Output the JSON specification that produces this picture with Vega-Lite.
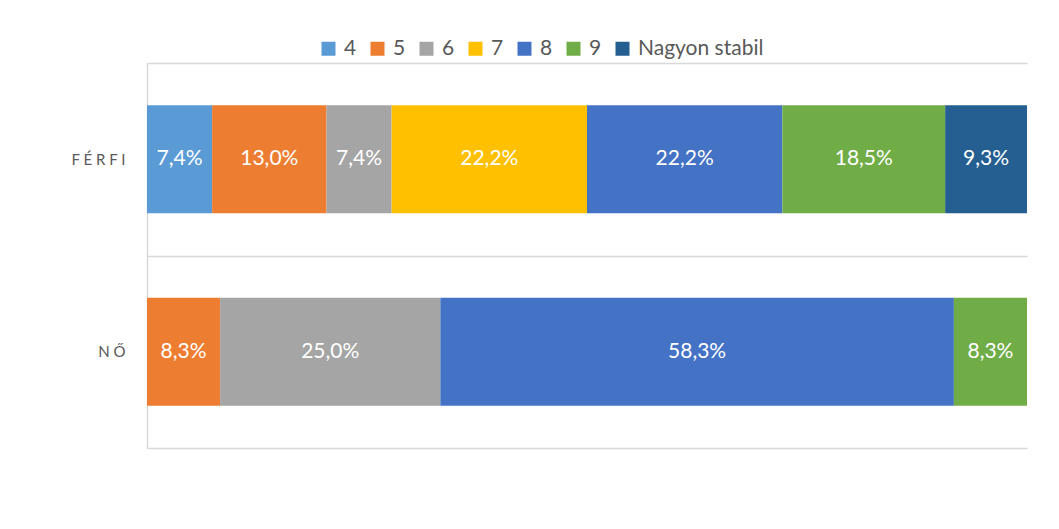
{
  "$schema": "https://vega.github.io/schema/vega-lite/v6.json",
  "width": 880,
  "height": 385,
  "autosize": {"type": "none"},
  "padding": {"left": 147, "top": 63, "right": 32, "bottom": 81},
  "background": "white",
  "config": {"view": {"stroke": null}, "font": "Lato"},
  "data": {
    "values": [
      {"sex": "FÉRFI", "cat": "4", "v": 7.4},
      {"sex": "FÉRFI", "cat": "5", "v": 13.0},
      {"sex": "FÉRFI", "cat": "6", "v": 7.4},
      {"sex": "FÉRFI", "cat": "7", "v": 22.2},
      {"sex": "FÉRFI", "cat": "8", "v": 22.2},
      {"sex": "FÉRFI", "cat": "9", "v": 18.5},
      {"sex": "FÉRFI", "cat": "Nagyon stabil", "v": 9.3},
      {"sex": "NŐ", "cat": "5", "v": 8.3},
      {"sex": "NŐ", "cat": "6", "v": 25.0},
      {"sex": "NŐ", "cat": "8", "v": 58.3},
      {"sex": "NŐ", "cat": "9", "v": 8.3}
    ]
  },
  "transform": [
    {"stack": "v", "groupby": ["sex"], "sort": [{"field": "cat", "order": "ascending"}], "offset": "normalize", "as": ["x0", "x1"]},
    {"calculate": "(datum.x0 + datum.x1) / 2", "as": "xm"},
    {"calculate": "replace(format(datum.v, '.1f'), '.', ',') + '%'", "as": "label"}
  ],
  "encoding": {
    "y": {
      "field": "sex",
      "type": "nominal",
      "sort": ["FÉRFI", "NŐ"],
      "scale": {"paddingInner": 0, "paddingOuter": 0},
      "axis": {
        "title": null,
        "domain": true,
        "domainColor": "#D9D9D9",
        "domainWidth": 1.5,
        "ticks": false,
        "grid": true,
        "gridColor": "#D9D9D9",
        "gridWidth": 1.5,
        "tickBand": "extent",
        "bandPosition": 0,
        "labelFontSize": 15,
        "labelColor": "#595959",
        "labelPadding": 22,
        "labelExpr": "join(split(datum.label, ''), ' ')"
      }
    }
  },
  "layer": [
    {
      "mark": {"type": "bar", "height": {"band": 0.56}},
      "encoding": {
        "x": {"field": "x0", "type": "quantitative", "scale": {"domain": [0, 1], "nice": false}, "axis": null},
        "x2": {"field": "x1"},
        "color": {
          "field": "cat",
          "type": "nominal",
          "scale": {
            "domain": ["4", "5", "6", "7", "8", "9", "Nagyon stabil"],
            "range": ["#5B9BD5", "#ED7D31", "#A5A5A5", "#FFC000", "#4472C4", "#70AD47", "#255E91"]
          },
          "legend": {
            "orient": "none",
            "legendX": 171,
            "legendY": -25,
            "direction": "horizontal",
            "title": null,
            "symbolType": "square",
            "symbolSize": 196,
            "symbolStrokeWidth": 0,
            "labelFontSize": 21,
            "labelColor": "#595959",
            "labelOffset": 5,
            "columnPadding": 10
          }
        }
      }
    },
    {
      "mark": {"type": "text", "color": "white", "fontSize": 21},
      "encoding": {
        "x": {"field": "xm", "type": "quantitative"},
        "text": {"field": "label"}
      }
    }
  ]
}
